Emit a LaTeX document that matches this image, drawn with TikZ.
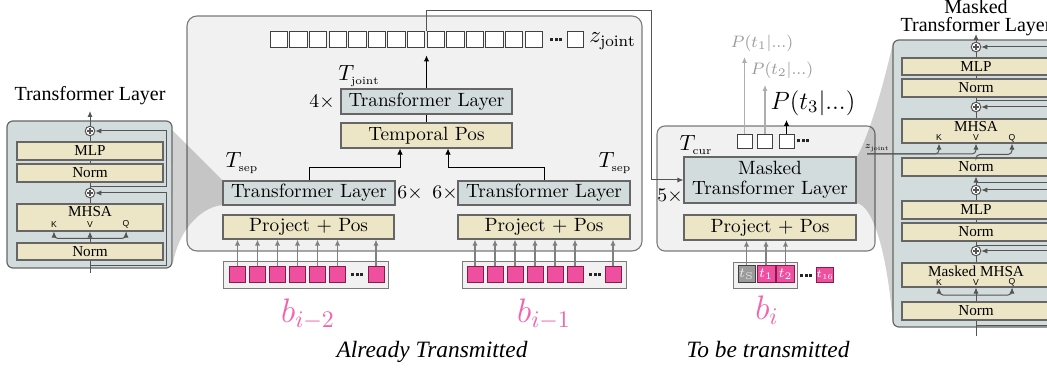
\RequirePackage{fix-cm}
\documentclass[tikz,border=0pt]{standalone}
\usepackage{fontspec}
\newfontfamily\timesf{Liberation Serif}
\newfontfamily\helvf{Liberation Sans}
\usetikzlibrary{arrows.meta,calc}
\definecolor{beige}{HTML}{ECE6C7}
\definecolor{tlblue}{HTML}{D3DCDC}
\definecolor{bordc}{HTML}{666666}
\definecolor{contfill}{HTML}{F1F1F1}
\definecolor{contc}{HTML}{7A7A7A}
\definecolor{lc}{HTML}{555555}
\definecolor{garrc}{HTML}{808080}
\definecolor{pinkf}{HTML}{EF4F9F}
\definecolor{pinkd}{HTML}{8A1A4C}
\definecolor{pinkl}{HTML}{F264AE}
\definecolor{pgray}{HTML}{9A9A9A}
\definecolor{sgray}{HTML}{9B9B9B}
\newcommand{\cmf}{\fontsize{9.6}{11}\selectfont}
\newcommand{\tmf}{\timesf\fontsize{7.6}{9}\selectfont}
\newcommand{\kvq}{\helvf\fontsize{4.3}{5}\selectfont}
\newcommand{\mydots}{\rule{1.5pt}{1.5pt}\hspace{0.9pt}\rule{1.5pt}{1.5pt}\hspace{0.9pt}\rule{1.5pt}{1.5pt}}
\tikzset{
  beigebox/.style={draw=bordc, fill=beige, line width=0.55pt, inner sep=0pt, font=\cmf},
  bluebox/.style={draw=bordc, fill=tlblue, line width=0.55pt, inner sep=0pt, font=\cmf},
  tbox/.style={draw=bordc, fill=beige, line width=0.55pt, inner sep=0pt, font=\tmf, minimum width=73pt},
  rtbox/.style={tbox, minimum width=74pt},
  layerbox/.style={draw=bordc, fill=tlblue, line width=0.6pt, rounded corners=3pt, inner sep=0pt},
  container/.style={draw=contc, fill=contfill, line width=0.55pt, rounded corners=5pt, inner sep=0pt},
  bitcont/.style={draw=contc, fill=contfill, line width=0.5pt, inner sep=0pt},
  pinksq/.style={draw=pinkd, fill=pinkf, line width=0.5pt, minimum width=8pt, minimum height=8pt, inner sep=0pt},
  pinkt/.style={pinksq, text=white, font=\fontsize{7}{8}\selectfont, minimum width=9pt, minimum height=8.5pt},
  graysq/.style={draw=black!75, fill=sgray, line width=0.5pt, text=black!8, font=\fontsize{7}{8}\selectfont, minimum width=8.5pt, minimum height=8.5pt, inner sep=0pt},
  wsq/.style={draw=black!75, fill=white, line width=0.5pt, inner sep=0pt, minimum width=8.75pt, minimum height=8pt},
  txt/.style={inner sep=0pt},
  ln/.style={draw=lc, line width=0.5pt},
  arr/.style={ln, -{Latex[length=3pt,width=2.6pt]}},
  garr/.style={draw=garrc, line width=0.55pt, -{Latex[length=3pt,width=2.6pt]}},
  barr/.style={draw=black, line width=0.5pt, -{Latex[length=3pt,width=2.8pt]}},
  funl/.style={fill=black, fill opacity=0.18},
  plusc/.style={circle, draw=lc, fill=white, line width=0.5pt, minimum size=4.8pt, inner sep=0pt,
    path picture={\draw[lc, line width=0.7pt]
      ($(path picture bounding box.center)+(-3,0)$) -- ($(path picture bounding box.center)+(3,0)$)
      ($(path picture bounding box.center)+(0,-3)$) -- ($(path picture bounding box.center)+(0,3)$);}},
  dotsn/.style={inner sep=0pt, text=black!85}
}
\begin{document}
\begin{tikzpicture}[x=0.5pt,y=-0.5pt]
\useasboundingbox (0,0) rectangle (1047,368);
\clip (0,0) rectangle (1047,368);

% containers
\node[container, minimum width=227.5pt, minimum height=117.5pt] (mbox) at (414.5,133.5) {};
\node[container, rounded corners=4pt, minimum width=109pt, minimum height=62.5pt] (cbox) at (766,188.5) {};

% zoom funnels
\fill[funl] (172,130) -- (223,181) -- (223,205) .. controls (205,206) and (180,225) .. (173,263) -- cycle;
\fill[funl] (856,158) .. controls (868,140) and (885,80) .. (893,42) -- (893,327) .. controls (888,255) and (873,204) .. (856,203) -- cycle;

% ---------------- left: Transformer Layer detail
\node[layerbox, minimum width=82.5pt, minimum height=73.5pt] (lbox) at (89.5,194.5) {};
\node[anchor=base, font=\timesf\fontsize{10}{12}\selectfont] (ltitle) at (90,101) {Transformer Layer};
\node[tbox, minimum height=9pt] (lmlp) at (90,151) {MLP};
\node[tbox, minimum height=9pt] (lnorm2) at (90,173) {Norm};
\node[tbox, minimum height=13.5pt] (lmhsa) at (90,217.5) {};
\node[txt, font=\tmf] (lmhsat) at (90,212) {MHSA};
\node[txt, font=\kvq] (lK) at (54,224.5) {K};
\node[txt, font=\kvq] (lV) at (90,224.5) {V};
\node[txt, font=\kvq] (lQ) at (126,224.5) {Q};
\node[tbox, minimum height=8.5pt] (lnorm1) at (90,251.5) {Norm};
\node[plusc] (lp1) at (90,131) {};
\node[plusc] (lp2) at (90,193) {};
\coordinate (ltop) at (90,111);
\coordinate (lbot) at (90,273);
\coordinate (lkv) at (90,238.5);
\coordinate (lr1s) at (90,266);
\coordinate (lr1c) at (166,193);
\coordinate (lr2s) at (90,187);
\coordinate (lr2c) at (166,131);

% ---------------- right: Masked Transformer Layer detail
\node[layerbox, minimum width=83pt, minimum height=143.5pt] (rbox) at (976,183.5) {};
\node[anchor=base, font=\timesf\fontsize{10}{12}\selectfont] (rtitle1) at (976,14) {Masked};
\node[anchor=base, font=\timesf\fontsize{10}{12}\selectfont] (rtitle2) at (976,32) {Transformer Layer};
\node[rtbox, minimum height=8.5pt] (rmlp2) at (976,66.5) {MLP};
\node[rtbox, minimum height=9pt] (rnorm4) at (976,88) {Norm};
\node[rtbox, minimum height=12pt] (rmhsa2) at (976,131) {};
\node[txt, font=\tmf] (rmhsa2t) at (976,126.5) {MHSA};
\node[txt, font=\kvq] (rK2) at (939,138) {K};
\node[txt, font=\kvq] (rV2) at (976,138) {V};
\node[txt, font=\kvq] (rQ2) at (1012,138) {Q};
\node[rtbox, minimum height=9pt] (rnorm3) at (976,167) {Norm};
\node[rtbox, minimum height=9pt] (rmlp1) at (976,210) {MLP};
\node[rtbox, minimum height=9pt] (rnorm2) at (976,232) {Norm};
\node[rtbox, minimum height=12pt] (rmmhsa) at (976,275) {};
\node[txt, font=\tmf] (rmmhsat) at (976,271) {Masked MHSA};
\node[txt, font=\kvq] (rK1) at (939,282.5) {K};
\node[txt, font=\kvq] (rV1) at (976,282.5) {V};
\node[txt, font=\kvq] (rQ1) at (1012,282.5) {Q};
\node[rtbox, minimum height=9pt] (rnorm1) at (976,311) {Norm};
\node[plusc] (rp1) at (976,47) {};
\node[plusc] (rp2) at (976,107) {};
\node[plusc] (rp3) at (976,190) {};
\node[plusc] (rp4) at (976,251) {};
\coordinate (rtop) at (976,34);
\coordinate (rbot) at (976,336);
\coordinate (rkv) at (976,295);
\coordinate (rr1s) at (976,325);
\coordinate (rr1c) at (1053,251);
\coordinate (rr2s) at (976,246);
\coordinate (rr2c) at (1053,190);
\coordinate (rr3s) at (976,183);
\coordinate (rr3c) at (1053,107);
\coordinate (rr4s) at (976,101);
\coordinate (rr4c) at (1053,47);
\coordinate (zjs) at (867,154);
\node[txt, font=\fontsize{4.5}{5}\selectfont] (zjl) at (877,148) {$z_{\mathrm{joint}}$};

% ---------------- middle: already transmitted
\foreach \i in {0,...,13} {\node[wsq] (zq\i) at ({279+19.6*\i},40) {};}
\node[dotsn] (zdots) at (556,40) {\mydots};
\node[wsq, minimum width=8pt] (zqL) at (575,40) {};
\node[txt, anchor=west, font=\fontsize{11.5}{13}\selectfont] (zjt) at (589,41) {$z_{\mathrm{joint}}$};
\node[bluebox, minimum width=85.5pt, minimum height=12.5pt] (tlj) at (426.5,101.5) {Transformer Layer};
\node[beigebox, minimum width=85.5pt, minimum height=12.5pt] (tpos) at (426.5,135.5) {Temporal Pos};
\node[txt, font=\fontsize{11}{13}\selectfont] (tjl) at (359,76) {$T_{\scriptscriptstyle\mathrm{joint}}$};
\node[txt, font=\cmf] (four) at (322,102) {$4\times$};
\node[bluebox, minimum width=86pt, minimum height=12pt] (tll) at (309,193) {Transformer Layer};
\node[bluebox, minimum width=86pt, minimum height=12pt] (tlr) at (544,193) {Transformer Layer};
\node[txt, font=\fontsize{11}{13}\selectfont] (tsl) at (242,163) {$T_{\scriptscriptstyle\mathrm{sep}}$};
\node[txt, font=\fontsize{11}{13}\selectfont] (tsr) at (615,163) {$T_{\scriptscriptstyle\mathrm{sep}}$};
\node[txt, font=\cmf] (sixl) at (410,193) {$6\times$};
\node[txt, font=\cmf] (sixr) at (445,193) {$6\times$};
\node[beigebox, minimum width=85.5pt, minimum height=12pt] (pjl) at (308.5,227) {Project $+$ Pos};
\node[beigebox, minimum width=86pt, minimum height=12pt] (pjr) at (544,227) {Project $+$ Pos};
\node[bitcont, minimum width=82.5pt, minimum height=13pt] (bitl) at (305.5,275) {};
\node[bitcont, minimum width=82pt, minimum height=13pt] (bitr) at (544,275) {};
\foreach \i in {0,...,5} {\node[pinksq] (pl\i) at ({237.5+20*\i},275) {};}
\node[pinksq] (pl6) at (376,275) {};
\node[dotsn] (pldots) at (357,275) {\mydots};
\foreach \i in {0,...,5} {\node[pinksq] (pr\i) at ({475+20*\i},275) {};}
\node[pinksq] (pr6) at (613,275) {};
\node[dotsn] (prdots) at (595,275) {\mydots};
\node[anchor=base, text=pinkl, font=\fontsize{17}{20}\selectfont] (bl2) at (308,322) {$b_{i-2}$};
\node[anchor=base, text=pinkl, font=\fontsize{17}{20}\selectfont] (bl1) at (544,322) {$b_{i-1}$};
\node[anchor=base, font=\timesf\itshape\fontsize{11.7}{14}\selectfont] (already) at (432,357) {Already Transmitted};

% ---------------- current block
\node[txt, font=\fontsize{11}{13}\selectfont] (tcl) at (696,145) {$T_{\scriptscriptstyle\mathrm{cur}}$};
\node[wsq, minimum width=7.5pt, minimum height=7pt] (s1) at (744.5,142) {};
\node[wsq, minimum width=7.5pt, minimum height=7pt] (s2) at (765,142) {};
\node[wsq, minimum width=7.5pt, minimum height=7pt] (s3) at (786.5,142) {};
\node[dotsn] (sdots) at (803,141) {\mydots};
\node[txt, text=pgray, font=\fontsize{8.3}{10}\selectfont] (P1) at (762,43) {$P(t_1|...)$};
\node[txt, text=pgray, font=\fontsize{8.3}{10}\selectfont] (P2) at (782,70) {$P(t_2|...)$};
\node[txt, font=\fontsize{12.5}{15}\selectfont] (P3) at (813,103) {$P(t_3|...)$};
\coordinate (a1) at (744.5,57);
\coordinate (a2) at (765,85);
\coordinate (a3) at (786.5,120);
\node[bluebox, minimum width=86pt, minimum height=23pt, align=center, font=\fontsize{9.6}{10.2}\selectfont] (mtl) at (770,180) {Masked\\Transformer Layer};
\node[txt, font=\cmf] (five) at (670,196) {$5\times$};
\node[beigebox, minimum width=86pt, minimum height=12.5pt] (pjc) at (770,227.5) {Project $+$ Pos};
\node[bitcont, minimum width=32pt, minimum height=12.5pt] (bitc) at (765,275.5) {};
\node[graysq] (tS) at (746.5,274.5) {$t_{\mathrm{S}}$};
\node[pinkt] (t1) at (766,274.5) {$t_1$};
\node[pinkt] (t2) at (785.5,274.5) {$t_2$};
\node[dotsn] (tdots) at (806,276) {\mydots};
\node[pinkt, minimum width=8pt, minimum height=7.5pt, font=\fontsize{5.5}{6}\selectfont] (t16) at (825,275.5) {$t_{16}$};
\node[anchor=base, text=pinkl, font=\fontsize{17}{20}\selectfont] (bi) at (767,319) {$b_i$};
\node[anchor=base, font=\timesf\itshape\fontsize{11.7}{14}\selectfont] (tobe) at (768,357) {To be transmitted};

% ---------------- connectors: left detail
\draw[ln] (lbot) -- (lnorm1.south);
\draw[arr] (lnorm1.north) -- (lmhsa.south);
\draw[arr, rounded corners=2pt] (lkv) -| (lK |- lmhsa.south);
\draw[arr, rounded corners=2pt] (lkv) -| (lQ |- lmhsa.south);
\draw[ln] (lmhsa.north) -- (lp2);
\draw[ln] (lp2) -- (lnorm2.south);
\draw[ln] (lnorm2.north) -- (lmlp.south);
\draw[ln] (lmlp.north) -- (lp1);
\draw[arr] (lp1) -- (ltop);
\draw[arr] (lr1s) -| (lr1c) -- (lp2);
\draw[arr] (lr2s) -| (lr2c) -- (lp1);

% connectors: right detail
\draw[ln] (rbot) -- (rnorm1.south);
\draw[arr] (rnorm1.north) -- (rmmhsa.south);
\draw[arr, rounded corners=2pt] (rkv) -| (rK1 |- rmmhsa.south);
\draw[arr, rounded corners=2pt] (rkv) -| (rQ1 |- rmmhsa.south);
\draw[ln] (rmmhsa.north) -- (rp4);
\draw[ln] (rp4) -- (rnorm2.south);
\draw[ln] (rnorm2.north) -- (rmlp1.south);
\draw[ln] (rmlp1.north) -- (rp3);
\draw[arr] (rp3) -- (rnorm3.south);
\draw[arr, rounded corners=2pt] (rnorm3.north) -- ++(0,-3) -| (rQ2 |- rmhsa2.south);
\draw[arr, rounded corners=2pt] (zjs) -| (rK2 |- rmhsa2.south);
\draw[arr, rounded corners=2pt] (zjs) -| (rV2 |- rmhsa2.south);
\draw[ln] (rmhsa2.north) -- (rp2);
\draw[ln] (rp2) -- (rnorm4.south);
\draw[ln] (rnorm4.north) -- (rmlp2.south);
\draw[ln] (rmlp2.north) -- (rp1);
\draw[arr] (rp1) -- (rtop);
\draw[arr] (rr1s) -| (rr1c) -- (rp4);
\draw[arr] (rr2s) -| (rr2c) -- (rp3);
\draw[arr] (rr3s) -| (rr3c) -- (rp2);
\draw[arr] (rr4s) -| (rr4c) -- (rp1);

% connectors: middle
\foreach \i in {0,...,6} {\draw[garr] (pl\i.north) -- (pl\i.north |- pjl.south);}
\foreach \i in {0,...,6} {\draw[garr] (pr\i.north) -- (pr\i.north |- pjr.south);}
\coordinate (tin1) at ($(tpos.south)+(-26.5,0)$);
\coordinate (tin2) at ($(tpos.south)+(21.5,0)$);
\draw[barr] (tll.north) -- ++(0,-13) -| (tin1);
\draw[barr] (tlr.north) -- ++(0,-13) -| (tin2);
\draw[ln, draw=black] (tpos.north) -- (tlj.south);
\draw[barr, shorten >=3.5pt] (tlj.north) -- (tlj.north |- zq8.south);
\coordinate (jtop) at (tlj.north |- zq8.north);
\coordinate (jc1) at (651,11);
\draw[arr] (jtop) |- (jc1) |- (mtl.west);

% connectors: current block
\draw[garr] (tS.north) -- (tS.north |- pjc.south);
\draw[garr] (t1.north) -- (t1.north |- pjc.south);
\draw[garr] (t2.north) -- (t2.north |- pjc.south);
\draw[garr, draw=pgray!80] (s1.north) -- (a1);
\draw[garr, draw=pgray!80] (s2.north) -- (a2);
\draw[barr] (s3.north) -- (a3);
\end{tikzpicture}
\end{document}
